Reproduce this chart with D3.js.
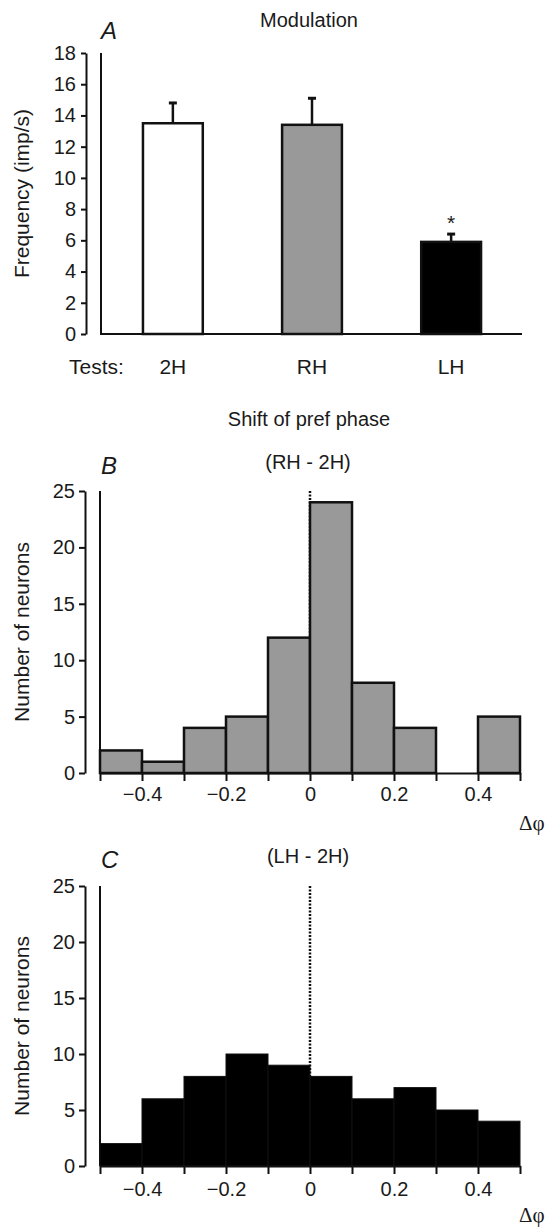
<!DOCTYPE html>
<html>
<head>
<meta charset="utf-8">
<script src="https://cdn.jsdelivr.net/npm/d3@7"></script>
<style>
body { margin: 0; background: #fff; }
text { font-family: "Liberation Sans", Arial, sans-serif; fill: #1a1a1a; }
.axis path, .axis line { stroke: #111; stroke-width: 2; }
.axis text { font-size: 20px; }
</style>
</head>
<body>
<div id="chart"></div>
<script>
// panel A - modulation
var tests = ['2H', 'RH', 'LH'];
var modMean = [13.5, 13.4, 5.9];
var modErrTop = [14.8, 15.1, 6.4];
var freqTicks = [0, 2, 4, 6, 8, 10, 12, 14, 16, 18];

// panels B, C - shift of preferred phase histograms
var binStart = [-0.5, -0.4, -0.3, -0.2, -0.1, 0, 0.1, 0.2, 0.3, 0.4];
var binEnd = [-0.4, -0.3, -0.2, -0.1, 0, 0.1, 0.2, 0.3, 0.4, 0.5];
var countsRH = [2, 1, 4, 5, 12, 24, 8, 4, 0, 5];
var countsLH = [2, 6, 8, 10, 9, 8, 6, 7, 5, 4];
var phaseTicks = [-0.4, -0.2, 0, 0.2, 0.4];
var countTicks = [0, 5, 10, 15, 20, 25];

var W = 545, H = 1227;
var fmt = d3.format('.1~f');

var svg = d3.select('#chart').append('svg')
  .attr('width', W)
  .attr('height', H);

// ---------- A ----------
var yA = d3.scaleLinear().domain([0, 18]).range([334, 53]);
var xA = d3.scaleBand().domain(tests).range([104, 520])
  .paddingInner(0.57).paddingOuter(0.28);
var fillA = {'2H': '#fff', 'RH': '#999', 'LH': '#000'};

svg.append('text').attr('x', 309).attr('y', 27)
  .attr('text-anchor', 'middle').style('font-size', '20px').text('Modulation');
svg.append('text').attr('x', 101).attr('y', 39)
  .style('font-size', '24px').style('font-style', 'italic').text('A');

svg.append('g').attr('class', 'axis')
  .attr('transform', 'translate(86,0)')
  .call(d3.axisLeft(yA).tickValues(freqTicks).tickSize(5).tickSizeOuter(0).tickPadding(5));

svg.append('text')
  .attr('transform', 'translate(29,' + yA(9) + ') rotate(-90)')
  .attr('text-anchor', 'middle').style('font-size', '21px')
  .text('Frequency (imp/s)');

// frame
svg.append('line').attr('x1', 101).attr('x2', 101)
  .attr('y1', yA(18)).attr('y2', yA(0))
  .attr('stroke', '#111').attr('stroke-width', 2);
svg.append('line').attr('x1', 100).attr('x2', 522)
  .attr('y1', yA(0)).attr('y2', yA(0))
  .attr('stroke', '#111').attr('stroke-width', 2);

var gA = svg.append('g');
tests.forEach(function(t, i) {
  var cx = xA(t) + xA.bandwidth() / 2;
  gA.append('line').attr('x1', cx).attr('x2', cx)
    .attr('y1', yA(modMean[i])).attr('y2', yA(modErrTop[i]))
    .attr('stroke', '#111').attr('stroke-width', 2.5);
  gA.append('line').attr('x1', cx - 4).attr('x2', cx + 4)
    .attr('y1', yA(modErrTop[i])).attr('y2', yA(modErrTop[i]))
    .attr('stroke', '#111').attr('stroke-width', 3);
  gA.append('rect')
    .attr('x', xA(t)).attr('y', yA(modMean[i]))
    .attr('width', xA.bandwidth()).attr('height', yA(0) - yA(modMean[i]))
    .attr('fill', fillA[t]).attr('stroke', '#111').attr('stroke-width', 2.5);
  svg.append('text').attr('x', cx).attr('y', 374)
    .attr('text-anchor', 'middle').style('font-size', '21px').text(t);
});
// significance star on LH
svg.append('text')
  .attr('x', xA('LH') + xA.bandwidth() / 2).attr('y', yA(modErrTop[2]) + 3)
  .attr('dy', '-0.35em').attr('text-anchor', 'middle')
  .style('font-size', '21px').text('*');
svg.append('text').attr('x', 69).attr('y', 374)
  .style('font-size', '21px').text('Tests:');

svg.append('text').attr('x', 309).attr('y', 426)
  .attr('text-anchor', 'middle').style('font-size', '20px').text('Shift of pref phase');

// ---------- B, C ----------
function histPanel(opts) {
  var y = d3.scaleLinear().domain([0, 25]).range([opts.base, opts.top]);
  var x = d3.scaleLinear().domain([-0.5, 0.5]).range([100, 520]);
  var g = svg.append('g');

  g.append('text').attr('x', 101).attr('y', opts.titleY)
    .style('font-size', '24px').style('font-style', 'italic').text(opts.letter);
  g.append('text').attr('x', 308).attr('y', opts.titleY - 5)
    .attr('text-anchor', 'middle').style('font-size', '20px').text(opts.title);

  g.append('g').attr('class', 'axis')
    .attr('transform', 'translate(85,0)')
    .call(d3.axisLeft(y).tickValues(countTicks).tickSize(6).tickSizeOuter(0).tickPadding(4));

  g.append('text')
    .attr('transform', 'translate(29,' + y(12.5) + ') rotate(-90)')
    .attr('text-anchor', 'middle').style('font-size', '21px')
    .text('Number of neurons');

  g.append('line').attr('x1', x(-0.5)).attr('x2', x(-0.5))
    .attr('y1', y(25)).attr('y2', y(0))
    .attr('stroke', '#111').attr('stroke-width', 2);

  // zero reference
  g.append('line').attr('x1', x(0)).attr('x2', x(0))
    .attr('y1', y(25)).attr('y2', y(0))
    .attr('stroke', '#111').attr('stroke-width', 2.5)
    .attr('stroke-dasharray', '2,1.5');

  g.selectAll('.bin').data(opts.counts).enter()
    .append('rect')
    .attr('x', function(d, i) { return x(binStart[i]); })
    .attr('y', function(d) { return y(d); })
    .attr('width', function(d, i) { return x(binEnd[i]) - x(binStart[i]); })
    .attr('height', function(d) { return y(0) - y(d); })
    .attr('fill', opts.fill)
    .attr('stroke', '#111')
    .attr('stroke-width', opts.fill === '#000' ? 1 : 2.5);

  g.append('g').attr('class', 'axis')
    .attr('transform', 'translate(0,' + opts.base + ')')
    .call(d3.axisBottom(x).tickValues(binStart.concat([0.5]))
      .tickSize(8).tickSizeOuter(0).tickPadding(opts.pad)
      .tickFormat(function(d) {
        return phaseTicks.some(function(p) { return Math.abs(p - d) < 1e-9; }) ? fmt(d) : '';
      }));

  g.append('text').attr('x', 519).attr('y', opts.dphiY)
    .style('font-family', '"Liberation Serif", "DejaVu Serif", serif')
    .style('font-size', '21px').text('Δφ');
}

histPanel({letter: 'B', title: '(RH - 2H)', counts: countsRH, fill: '#999',
  top: 491, base: 773, titleY: 474, pad: 6, dphiY: 830});
histPanel({letter: 'C', title: '(LH - 2H)', counts: countsLH, fill: '#000',
  top: 886, base: 1166, titleY: 868, pad: 8, dphiY: 1222});
</script>
</body>
</html>
